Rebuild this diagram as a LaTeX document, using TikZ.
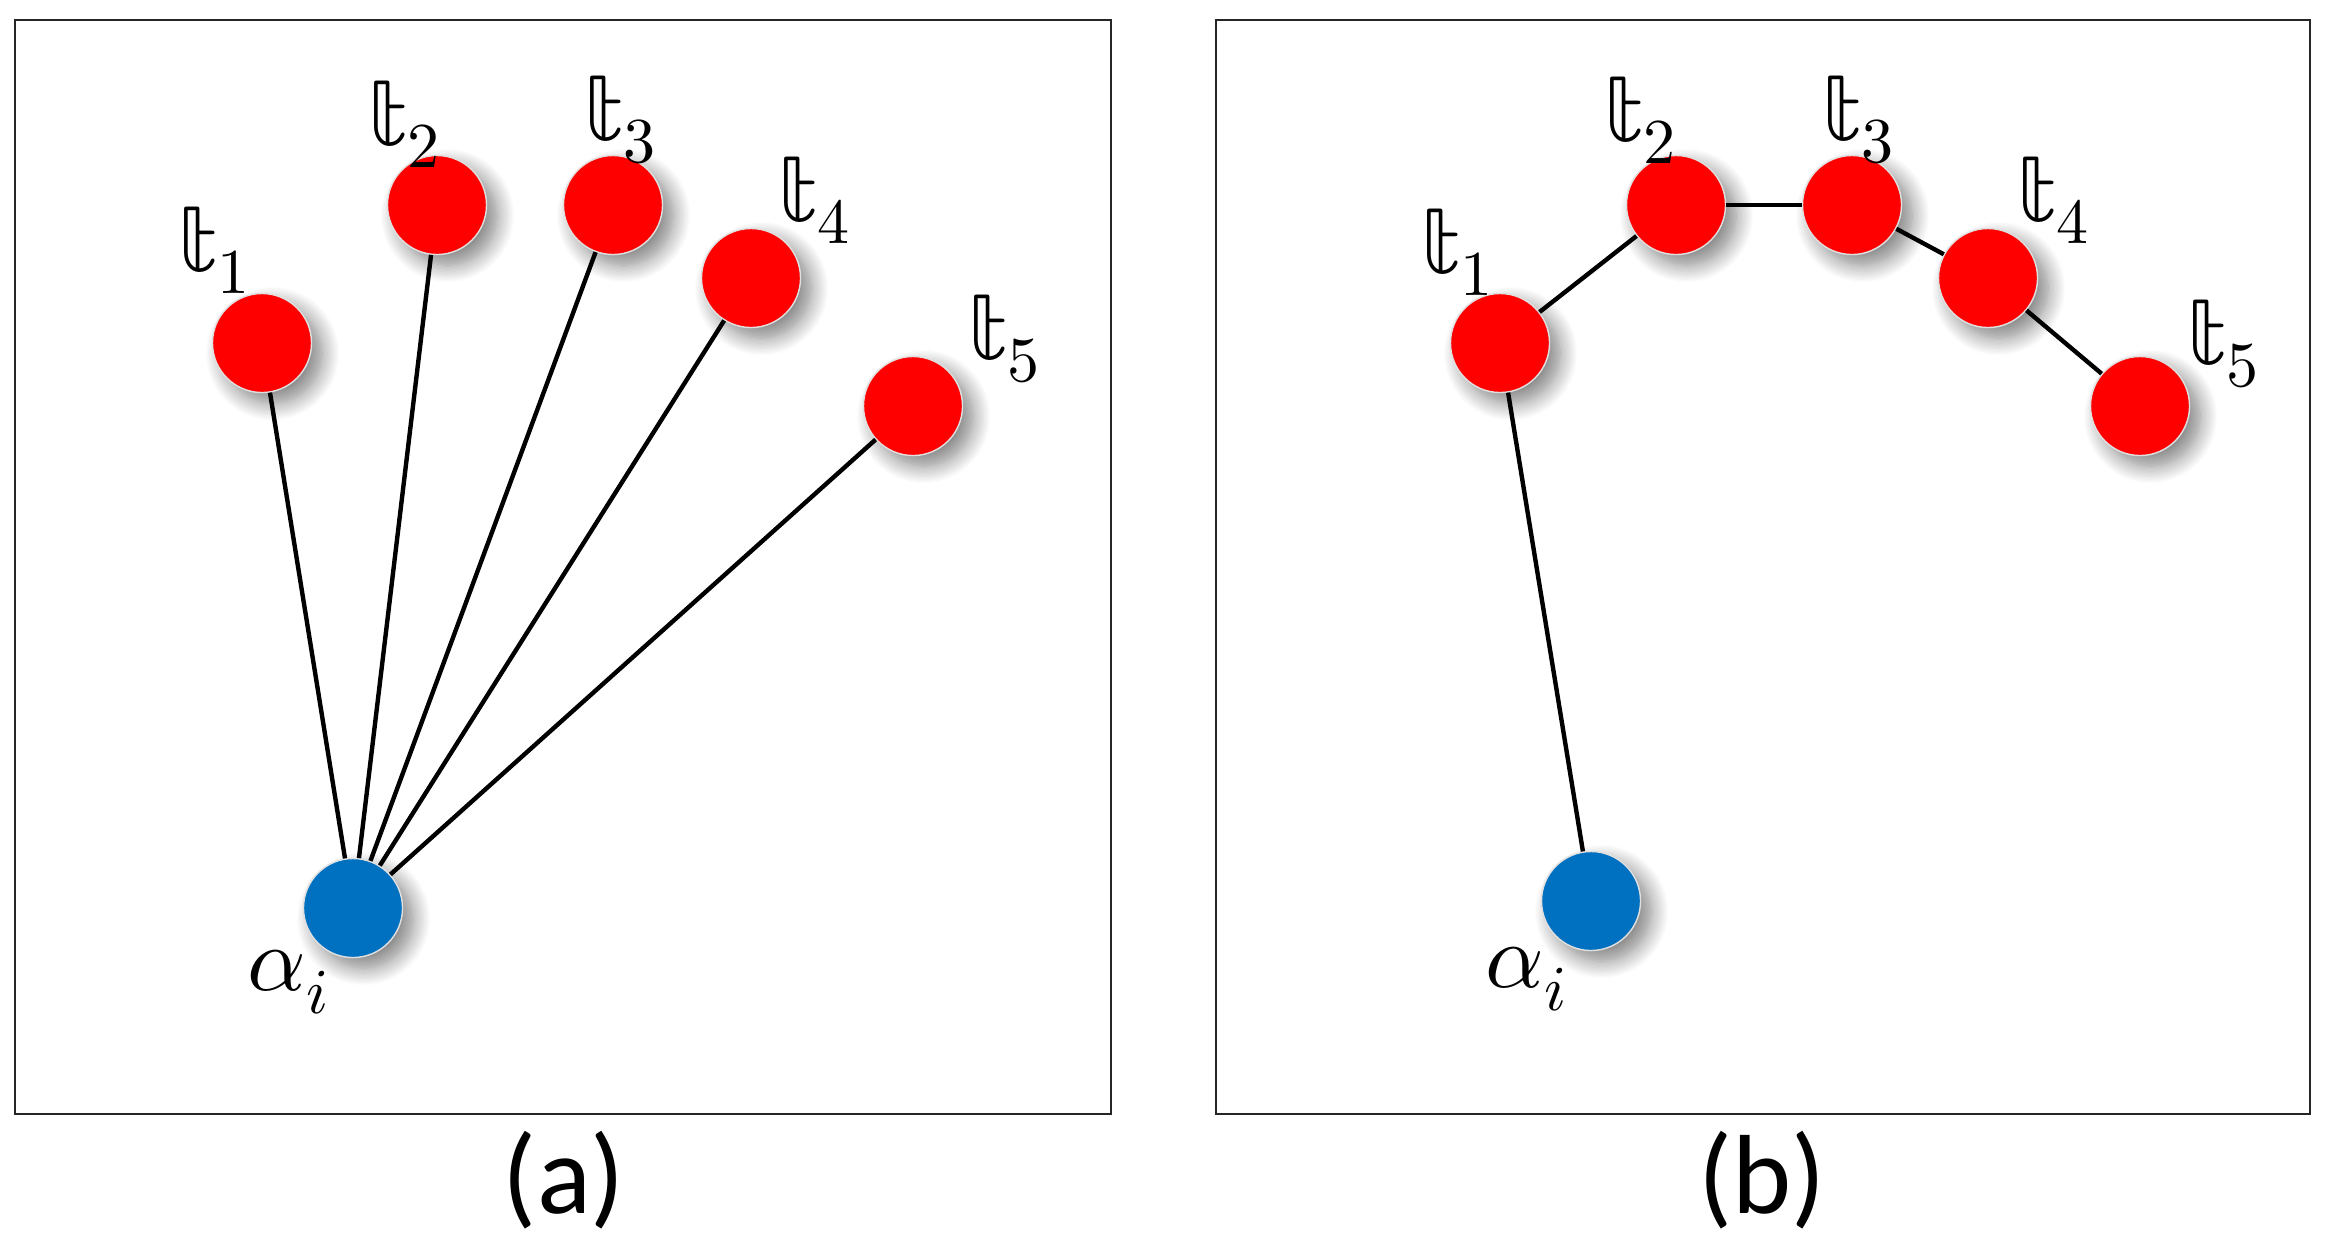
\documentclass[tikz,border=0pt]{standalone}
\usepackage{fontspec}
\usepackage{unicode-math}
\setmainfont{Carlito}
\setmathfont{Latin Modern Math}
\usepackage{tikz}
\usetikzlibrary{shadows.blur}

\definecolor{tred}{RGB}{255,0,0}
\definecolor{ablue}{RGB}{0,112,192}

\begin{document}
\begin{tikzpicture}[x=0.01cm, y=-0.01cm,
  tnode/.style={circle, fill=tred, draw=black!12, line width=0.4pt,
    minimum size=0.99cm, inner sep=0pt,
    blur shadow={shadow xshift=3pt, shadow yshift=-3pt,
      shadow blur radius=5pt, shadow blur steps=14, shadow opacity=50}},
  anode/.style={tnode, fill=ablue},
  lbl/.style={font=\fontsize{26}{30}\selectfont, inner sep=0pt},
  caption/.style={font=\fontsize{32}{38}\selectfont, inner sep=0pt},
  link/.style={line width=1.25pt},
  panel/.style={draw=black!85, line width=0.8pt}]
\useasboundingbox (0,0) rectangle (2325,1256);

% panel (a)
\draw[panel] (15,20) rectangle (1111,1114);
\node[tnode] (a1) at (262,343) {};
\node[tnode] (a2) at (437,205) {};
\node[tnode] (a3) at (613,205) {};
\node[tnode] (a4) at (751,278) {};
\node[tnode] (a5) at (913,406) {};
\node[anode] (a0) at (353,908) {};
\foreach \i in {1,...,5}
  \draw[link] (a0) -- (a\i);

\node[lbl] (la1) at (215,250) {$\mathbb{t}_1$};
\node[lbl] (la2) at (405,124) {$\mathbb{t}_2$};
\node[lbl] (la3) at (621,120) {$\mathbb{t}_3$};
\node[lbl] (la4) at (815,200) {$\mathbb{t}_4$};
\node[lbl] (la5) at (1005,339) {$\mathbb{t}_5$};
\node[lbl] (la0) at (289,982) {$\alpha_i$};
\node[caption] (capa) at (564,1180) {(a)};

% panel (b)
\draw[panel] (1216,20) rectangle (2310,1114);
\node[tnode] (b1) at (1500,343) {};
\node[tnode] (b2) at (1676,205) {};
\node[tnode] (b3) at (1852,205) {};
\node[tnode] (b4) at (1988,278) {};
\node[tnode] (b5) at (2140,406) {};
\node[anode] (b0) at (1591,901) {};
\foreach \u/\v in {b0/b1, b1/b2, b2/b3, b3/b4, b4/b5}
  \draw[link] (\u) -- (\v);

\node[lbl] (lb1) at (1458,252) {$\mathbb{t}_1$};
\node[lbl] (lb2) at (1641,120) {$\mathbb{t}_2$};
\node[lbl] (lb3) at (1859,120) {$\mathbb{t}_3$};
\node[lbl] (lb4) at (2054,200) {$\mathbb{t}_4$};
\node[lbl] (lb5) at (2224,344) {$\mathbb{t}_5$};
\node[lbl] (lb0) at (1527,979) {$\alpha_i$};
\node[caption] (capb) at (1762,1180) {(b)};
\end{tikzpicture}
\end{document}
